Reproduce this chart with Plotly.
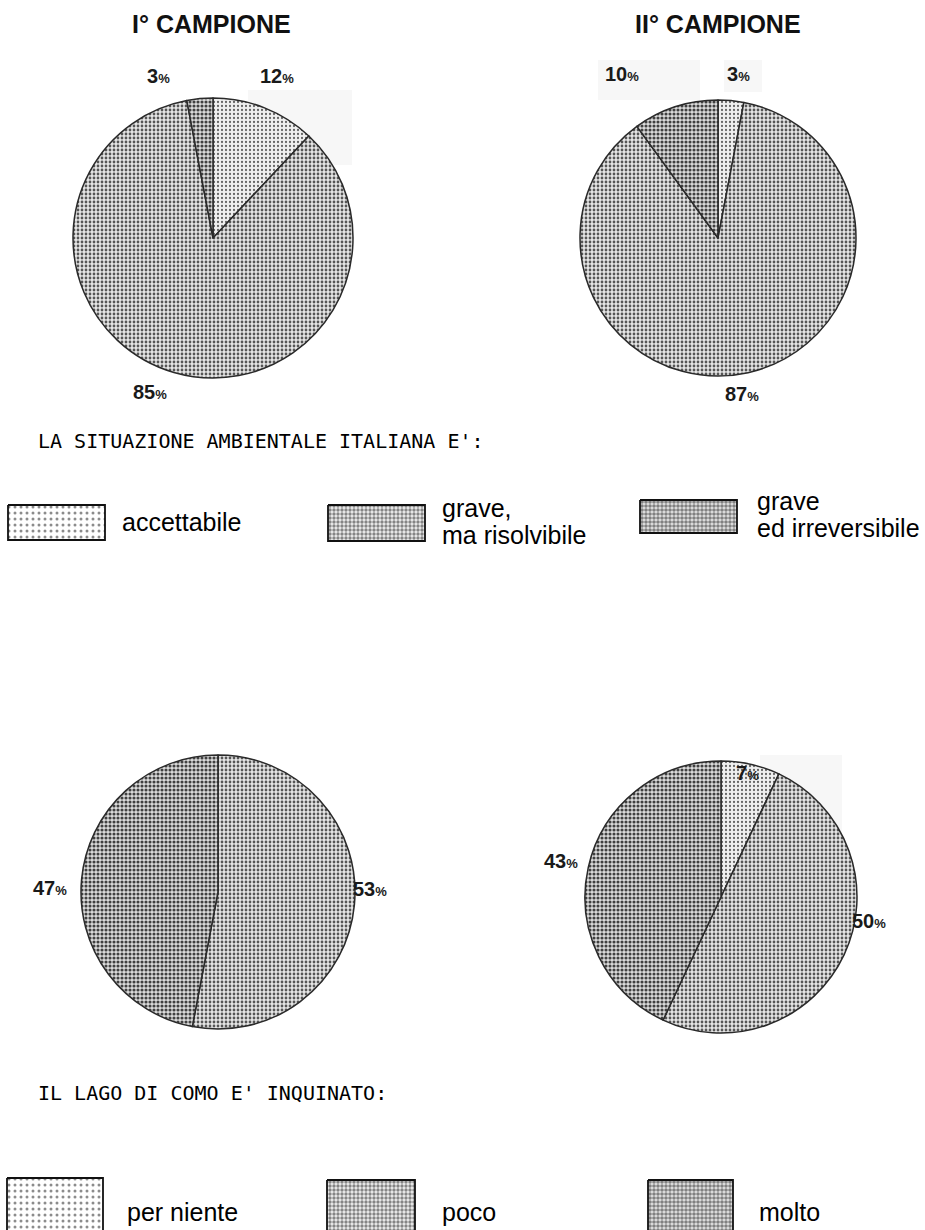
import plotly.graph_objects as go

# ---- data -------------------------------------------------------------
sample_titles = ["I° CAMPIONE", "II° CAMPIONE"]

q1_title = "LA SITUAZIONE AMBIENTALE ITALIANA E':"
q1_labels = ["accettabile", "grave, ma risolvibile", "grave ed irreversibile"]
q1_sample1 = [12, 85, 3]
q1_sample2 = [3, 87, 10]

q2_title = "IL LAGO DI COMO E' INQUINATO:"
q2_labels = ["per niente", "poco", "molto"]
q2_sample1 = [0, 53, 47]
q2_sample2 = [7, 50, 43]

# ---- styling ----------------------------------------------------------
W, H = 925, 1230
patterns = [
    dict(shape=".", fgcolor="#666666", bgcolor="#f0f0f0", size=4, solidity=0.25),
    dict(shape=".", fgcolor="#555555", bgcolor="#e6e6e6", size=4, solidity=0.38),
    dict(shape=".", fgcolor="#404040", bgcolor="#dcdcdc", size=4, solidity=0.48),
]
legend_patterns = [
    dict(shape=".", fgcolor="#1a1a1a", bgcolor="#ffffff", size=6, solidity=0.2),
    dict(shape=".", fgcolor="#1a1a1a", bgcolor="#eeeeee", size=4, solidity=0.55),
    dict(shape=".", fgcolor="#1a1a1a", bgcolor="#e6e6e6", size=4, solidity=0.65),
]
HEAD_FONT = dict(family="Liberation Sans, Arial, sans-serif", size=25, color="#111111",
                 weight="bold")
MONO_FONT = dict(family="DejaVu Sans Mono, monospace", size=20, color="#000000")
PCT_FONT = dict(family="Liberation Sans, Arial, sans-serif", size=20, color="#1a1a1a",
                weight="bold")
LEG_FONT = dict(family="Liberation Sans, Arial, sans-serif", size=25, color="#000000")

fig = go.Figure()

# pie placement (centre x, centre y, radius) in page pixels
pies = [
    (q1_sample1, q1_labels, 213, 238, 140),
    (q1_sample2, q1_labels, 718, 238, 138),
    (q2_sample1, q2_labels, 218, 892, 137),
    (q2_sample2, q2_labels, 721, 897, 136),
]

for vals, labs, cx, cy, r in pies:
    keep = [i for i, v in enumerate(vals) if v > 0]
    fig.add_trace(go.Pie(
        values=[vals[i] for i in keep],
        labels=[labs[i] for i in keep],
        sort=False, direction="clockwise", rotation=0,
        textinfo="none", hoverinfo="label+percent", showlegend=False,
        marker=dict(
            colors=["#ffffff"] * len(keep),
            pattern=dict(
                shape=[patterns[i]["shape"] for i in keep],
                fgcolor=[patterns[i]["fgcolor"] for i in keep],
                bgcolor=[patterns[i]["bgcolor"] for i in keep],
                size=[patterns[i]["size"] for i in keep],
                solidity=[patterns[i]["solidity"] for i in keep],
            ),
            line=dict(color="#2a2a2a", width=1.5),
        ),
        domain=dict(x=[(cx - r) / W, (cx + r) / W],
                    y=[1 - (cy + r) / H, 1 - (cy - r) / H]),
    ))


def pct(v):
    return f"{v}<span style='font-size:13px'>%</span>"


annotations = []

# column headers
for txt, x in zip(sample_titles, [211, 718]):
    annotations.append(dict(x=x, y=24, text=txt, font=HEAD_FONT, showarrow=False))

# percentage labels around the pies: (value, x, y)
pct_labels = [
    (q1_sample1[2], 158, 76), (q1_sample1[0], 277, 76), (q1_sample1[1], 150, 392),
    (q1_sample2[2], 622, 74), (q1_sample2[0], 738, 74), (q1_sample2[1], 742, 394),
    (q2_sample1[2], 50, 888), (q2_sample1[1], 370, 889),
    (q2_sample2[0], 747, 773), (q2_sample2[2], 561, 861), (q2_sample2[1], 869, 921),
]
for v, x, y in pct_labels:
    annotations.append(dict(x=x, y=y, text=pct(v), font=PCT_FONT, showarrow=False))

# question headings
annotations.append(dict(x=36, y=441, text=q1_title, font=MONO_FONT,
                        showarrow=False, xanchor="left"))
annotations.append(dict(x=36, y=1093, text=q2_title, font=MONO_FONT,
                        showarrow=False, xanchor="left"))

# legend boxes: (x0, y0, x1, y1) and text lines with their positions
legend_rows = [
    (q1_labels, [(8, 505, 105, 540), (328, 505, 425, 541), (640, 500, 737, 533)],
     [[("accettabile", 120, 522)],
      [("grave,", 440, 508), ("ma risolvibile", 440, 535)],
      [("grave", 755, 501), ("ed irreversibile", 755, 528)]]),
    (q2_labels, [(7, 1178, 103, 1232), (327, 1180, 415, 1232), (648, 1180, 733, 1232)],
     [[("per niente", 125, 1212)], [("poco", 440, 1212)], [("molto", 757, 1212)]]),
]
for labs, boxes, texts in legend_rows:
    for k, ((x0, y0, x1, y1), lines) in enumerate(zip(boxes, texts)):
        fig.add_trace(go.Scatter(
            x=[x0, x1, x1, x0, x0], y=[y0, y0, y1, y1, y0],
            mode="lines", fill="toself", fillcolor="#ffffff",
            fillpattern=legend_patterns[k],
            line=dict(color="#111111", width=1.8),
            hoverinfo="skip", showlegend=False, name=labs[k],
        ))
        for txt, tx, ty in lines:
            annotations.append(dict(x=tx, y=ty, text=txt, showarrow=False,
                                    xanchor="left", font=LEG_FONT))

# faint paste-up patches around some labels
patches = [(248, 90, 352, 165), (598, 60, 700, 100), (724, 60, 762, 92), (760, 755, 842, 868)]
shapes = [dict(type="rect", x0=a, y0=b, x1=c, y1=d, xref="x", yref="y", layer="below",
               line=dict(width=0), fillcolor="#f7f7f7") for a, b, c, d in patches]

fig.update_layout(
    width=W, height=H, margin=dict(l=0, r=0, t=0, b=0),
    paper_bgcolor="#ffffff", plot_bgcolor="#ffffff",
    xaxis=dict(range=[0, W], visible=False, fixedrange=True, domain=[0, 1]),
    yaxis=dict(range=[H, 0], visible=False, fixedrange=True, domain=[0, 1]),
    annotations=annotations, shapes=shapes,
)

fig.write_html("out.html")
